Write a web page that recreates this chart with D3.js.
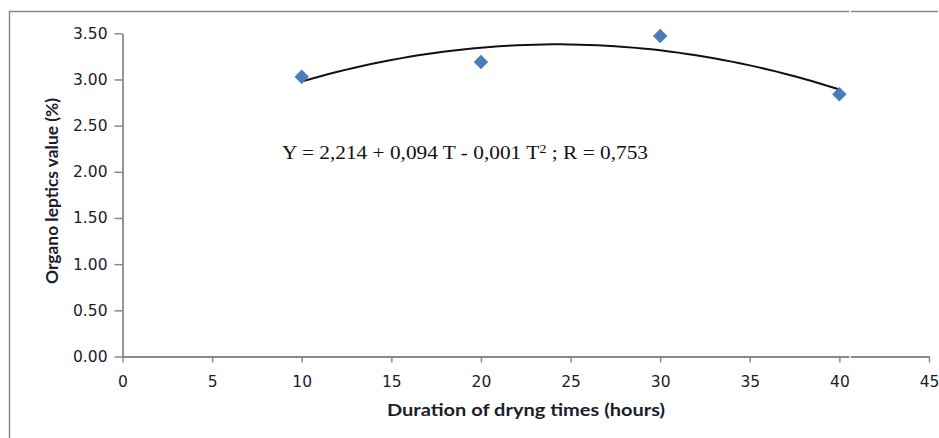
<!DOCTYPE html>
<html>
<head>
<meta charset="utf-8">
<script src="https://cdn.jsdelivr.net/npm/d3@7"></script>
<style>
  body { margin: 0; background: #fff; }
  svg { display: block; }
</style>
</head>
<body>
<svg id="chart" width="939" height="438"></svg>
<script>
// values
const dryingHours = [10, 20, 30, 40];
const organoValues = [3.03, 3.19, 3.47, 2.84];
const xTickValues = [0, 5, 10, 15, 20, 25, 30, 35, 40, 45];
const yTickValues = [0, 0.5, 1, 1.5, 2, 2.5, 3, 3.5];
const xTitle = 'Duration of dryng times (hours)';
const yTitle = 'Organo leptics value (%)';

const svg = d3.select('#chart');
const axisGrey = '#898989';
const labelColor = '#1c1c2a';

const x = d3.scaleLinear().domain([0, 45]).range([122.5, 929]);
const y = d3.scaleLinear().domain([0, 3.5]).range([356.5, 33.3]);

// outer frame (left + top only, like the crop)
svg.append('path')
  .attr('d', 'M9.5,438 V11.5 H938')
  .attr('fill', 'none')
  .attr('stroke', axisGrey)
  .attr('stroke-width', 1.5);

// axes
const yAxis = svg.append('g')
  .attr('transform', `translate(${x(0)},0)`)
  .call(d3.axisLeft(y).tickValues(yTickValues).tickSize(8).tickPadding(7)
    .tickFormat(d3.format('.2f')).tickSizeOuter(0));

const xAxis = svg.append('g')
  .attr('transform', `translate(0,${y(0)})`)
  .call(d3.axisBottom(x).tickValues(xTickValues).tickSize(6).tickPadding(13)
    .tickSizeOuter(0));

[xAxis, yAxis].forEach(g => {
  g.select('.domain').attr('stroke', axisGrey).attr('stroke-width', 1.8);
  g.selectAll('.tick line').attr('stroke', axisGrey).attr('stroke-width', 1.5);
  g.selectAll('.tick text')
    .attr('fill', labelColor)
    .style('font-family', '"DejaVu Sans", sans-serif')
    .style('font-size', '15.5px');
});

// quadratic trend line, least squares fit of the points
function fitQuadratic(xs, ys) {
  let s = [0, 0, 0, 0, 0], t = [0, 0, 0];
  xs.forEach((xv, i) => {
    for (let k = 0; k < 5; k++) s[k] += Math.pow(xv, k);
    for (let k = 0; k < 3; k++) t[k] += Math.pow(xv, k) * ys[i];
  });
  // solve 3x3 normal equations
  const m = [
    [s[0], s[1], s[2], t[0]],
    [s[1], s[2], s[3], t[1]],
    [s[2], s[3], s[4], t[2]]
  ];
  for (let c = 0; c < 3; c++) {
    for (let r = c + 1; r < 3; r++) {
      const f = m[r][c] / m[c][c];
      for (let k = c; k < 4; k++) m[r][k] -= f * m[c][k];
    }
  }
  const coef = [0, 0, 0];
  for (let r = 2; r >= 0; r--) {
    let v = m[r][3];
    for (let k = r + 1; k < 3; k++) v -= m[r][k] * coef[k];
    coef[r] = v / m[r][r];
  }
  return coef;
}
const coef = fitQuadratic(dryingHours, organoValues);
const trendX = d3.range(dryingHours[0], dryingHours[dryingHours.length - 1] + 0.001, 0.5);

svg.append('path')
  .datum(trendX)
  .attr('fill', 'none')
  .attr('stroke', '#111')
  .attr('stroke-width', 2)
  .attr('d', d3.line()
    .x(d => x(d))
    .y(d => y(coef[0] + coef[1] * d + coef[2] * d * d))
    .curve(d3.curveBasis));

// diamond markers
svg.selectAll('path.pt')
  .data(dryingHours)
  .enter()
  .append('path')
  .attr('class', 'pt')
  .attr('d', d3.symbol().type(d3.symbolSquare).size(105))
  .attr('transform', (d, i) => `translate(${x(d)},${y(organoValues[i])}) rotate(45)`)
  .attr('fill', '#4a7ebb');

// regression equation
const eq = svg.append('text')
  .attr('x', 282)
  .attr('y', 159)
  .attr('fill', '#111')
  .attr('textLength', 366)
  .attr('lengthAdjust', 'spacingAndGlyphs')
  .style('font-family', '"Liberation Serif", "Times New Roman", serif')
  .style('font-size', '19px');
eq.append('tspan').text('Y = 2,214 + 0,094 T - 0,001 T');
eq.append('tspan').attr('dy', -6).style('font-size', '13px').text('2');
eq.append('tspan').attr('dy', 6).text(' ; R = 0,753');

// axis titles
svg.append('text')
  .attr('x', 526)
  .attr('y', 416)
  .attr('text-anchor', 'middle')
  .attr('fill', labelColor)
  .attr('textLength', 278)
  .attr('lengthAdjust', 'spacingAndGlyphs')
  .style('font-family', 'Lato, sans-serif')
  .style('font-weight', 'bold')
  .style('font-size', '17px')
  .text(xTitle);

svg.append('text')
  .attr('transform', 'translate(57.5,191) rotate(-90)')
  .attr('text-anchor', 'middle')
  .attr('fill', labelColor)
  .attr('textLength', 186)
  .attr('lengthAdjust', 'spacingAndGlyphs')
  .style('font-family', 'Lato, sans-serif')
  .style('font-weight', 'bold')
  .style('font-size', '17px')
  .text(yTitle);

// thin white seam that cuts the frame and x axis in the source image
svg.append('rect')
  .attr('x', 849.5)
  .attr('y', 0)
  .attr('width', 1.5)
  .attr('height', 438)
  .attr('fill', '#fff');
</script>
</body>
</html>
